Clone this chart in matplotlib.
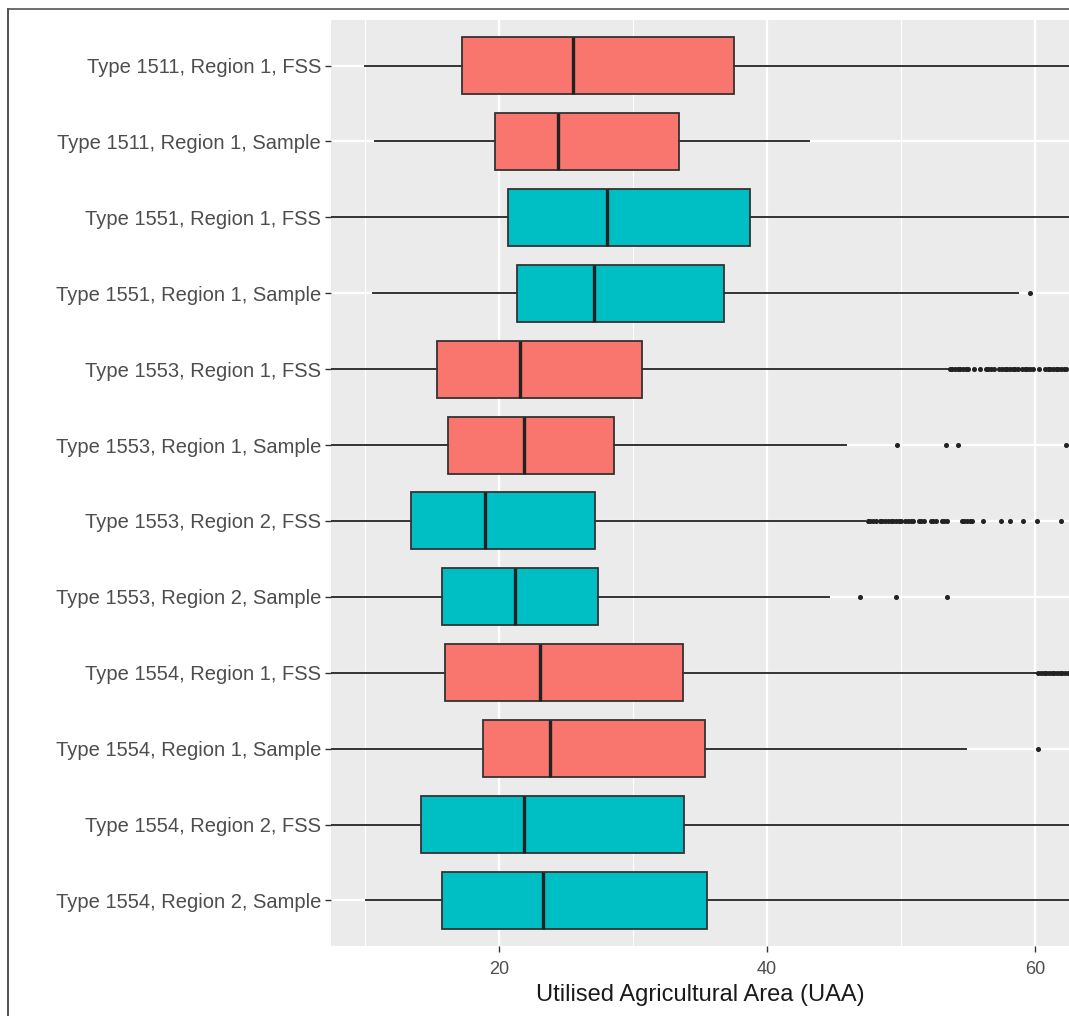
import matplotlib
matplotlib.use("Agg")
import matplotlib.pyplot as plt
from matplotlib.lines import Line2D

# categories, top to bottom
labels = [
    "Type 1511, Region 1, FSS",
    "Type 1511, Region 1, Sample",
    "Type 1551, Region 1, FSS",
    "Type 1551, Region 1, Sample",
    "Type 1553, Region 1, FSS",
    "Type 1553, Region 1, Sample",
    "Type 1553, Region 2, FSS",
    "Type 1553, Region 2, Sample",
    "Type 1554, Region 1, FSS",
    "Type 1554, Region 1, Sample",
    "Type 1554, Region 2, FSS",
    "Type 1554, Region 2, Sample",
]
groups = ["A", "A", "B", "B", "A", "A", "B", "B", "A", "A", "B", "B"]

whisk_lo = [10.0, 10.8, 5.0, 10.6, 5.0, 5.0, 4.0, 5.0, 5.0, 5.0, 4.5, 10.1]
q1 = [17.3, 19.7, 20.7, 21.4, 15.4, 16.2, 13.5, 15.8, 16.0, 18.8, 14.2, 15.8]
med = [25.5, 24.4, 28.1, 27.1, 21.6, 21.9, 19.0, 21.2, 23.1, 23.8, 21.9, 23.3]
q3 = [37.5, 33.4, 38.7, 36.8, 30.7, 28.6, 27.2, 27.4, 33.7, 35.4, 33.8, 35.5]
whisk_hi = [66.0, 43.1, 66.0, 58.7, 53.5, 45.9, 47.3, 44.6, 60.1, 54.8, 66.0, 66.0]

outliers = [
    [],
    [],
    [],
    [59.6],
    [53.6, 53.8, 54.0, 54.2, 54.4, 54.6, 54.8, 55.0, 55.4, 55.9,
     56.3, 56.5, 56.7, 56.9, 57.3, 57.5, 57.7, 57.9, 58.1, 58.3, 58.5, 58.7,
     59.0, 59.2, 59.4, 59.6, 59.8, 60.3, 60.7, 60.9, 61.1, 61.3, 61.5,
     61.7, 61.9, 62.1, 62.3],
    [49.7, 53.3, 54.2, 62.3],
    [47.5, 47.7, 47.9, 48.1, 48.4, 48.6, 48.8, 49.0, 49.2, 49.4, 49.6,
     49.8, 50.0, 50.3, 50.5, 50.7, 50.9, 51.3, 51.5, 51.7, 52.2, 52.4,
     52.6, 53.0, 53.2, 53.4, 54.5, 54.7, 54.9, 55.1, 55.3, 56.1, 57.4,
     58.1, 59.1, 60.1, 61.9],
    [46.9, 49.6, 53.4],
    [60.2, 60.4, 60.6, 60.8, 61.0, 61.2, 61.4, 61.6, 61.8, 62.0, 62.2, 62.4],
    [60.2],
    [],
    [],
]

xticks = [20, 40, 60]
xminor = [10, 30, 50]
colors = {"A": "#F8766D", "B": "#00BFC4"}

fig = plt.figure(figsize=(10.69, 10.16), dpi=100)
ax = fig.add_axes([0.3096, 0.0689, 0.6904, 0.9114])
ax.set_facecolor("#EBEBEB")

stats = []
for i in range(len(labels)):
    stats.append(dict(whislo=whisk_lo[i], q1=q1[i], med=med[i], q3=q3[i],
                      whishi=whisk_hi[i], fliers=outliers[i]))
pos = list(range(1, len(labels) + 1))

# grid first
for x in xminor:
    ax.axvline(x, color="white", lw=0.8, zorder=0)
for x in xticks:
    ax.axvline(x, color="white", lw=1.6, zorder=0)
for p in pos:
    ax.axhline(p, color="white", lw=1.6, zorder=0)

bp = ax.bxp(stats, positions=pos, vert=False, widths=0.75, patch_artist=True,
            showcaps=False,
            boxprops=dict(edgecolor="#333333", linewidth=1.3),
            whiskerprops=dict(color="#333333", linewidth=1.4),
            medianprops=dict(color="#222222", linewidth=2.4),
            flierprops=dict(marker="o", markersize=2.6, markerfacecolor="#222222",
                            markeredgecolor="#222222", linestyle="none"))
for patch, g in zip(bp["boxes"], groups):
    patch.set_facecolor(colors[g])
    patch.set_zorder(2)

ax.set_xlim(7.5, 62.5)
ax.set_ylim(12.6, 0.4)
ax.set_xticks(xticks)
ax.set_xticklabels([str(t) for t in xticks])
ax.set_yticks(pos)
ax.set_yticklabels(labels)
ax.tick_params(axis="both", colors="#333333", length=4, width=1,
               labelcolor="#4D4D4D")
ax.tick_params(axis="y", labelsize=14.5, pad=3)
ax.tick_params(axis="x", labelsize=13, pad=7)
for lab in ax.get_xticklabels() + ax.get_yticklabels():
    lab.set_family("Liberation Sans")
ax.set_xlabel("Utilised Agricultural Area (UAA)", fontsize=17,
              family="Liberation Sans", color="#1a1a1a", labelpad=4)
for s in ax.spines.values():
    s.set_visible(False)

# outer frame of the screenshot (left and top edges)
fig.add_artist(Line2D([0.0075, 0.0075], [0.0, 0.991], transform=fig.transFigure,
                      color="#333333", lw=1.2))
fig.add_artist(Line2D([0.0075, 1.0], [0.991, 0.991], transform=fig.transFigure,
                      color="#555555", lw=1.2))

fig.savefig("out.png", dpi=100)
